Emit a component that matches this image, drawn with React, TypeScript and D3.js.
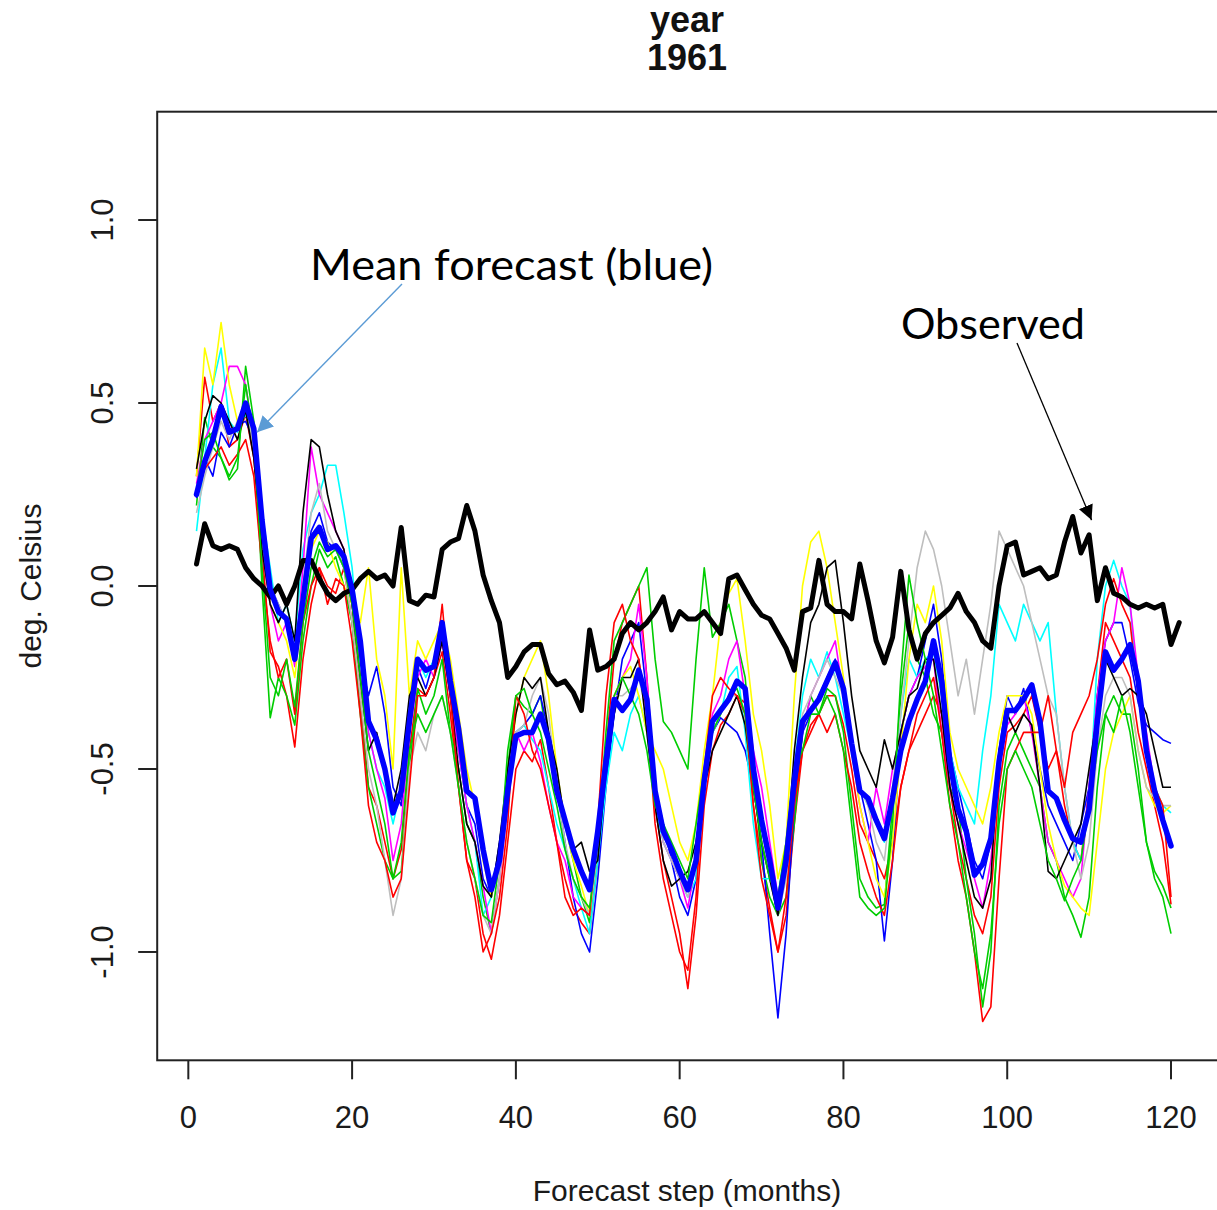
import * as d3 from "d3";

// ---- data ----
const titleLines = ["year", "1961"];
const xTicks = [0, 20, 40, 60, 80, 100, 120];
const yTicks = [-1.0, -0.5, 0.0, 0.5, 1.0];
const xLabel = "Forecast step (months)";
const yLabel = "deg. Celsius";

// observed (thick black), months 1..121
const observed = [
  0.06, 0.17, 0.11, 0.10, 0.11, 0.10, 0.05, 0.02, 0.00, -0.03, 0.00, -0.05,
  0.00, 0.07, 0.07, 0.02, -0.02, -0.04, -0.02, -0.01, 0.02, 0.04, 0.02, 0.03,
  0.00, 0.16, -0.04, -0.05, -0.025, -0.03, 0.10, 0.12, 0.13, 0.22, 0.15, 0.03,
  -0.04, -0.10, -0.25, -0.22, -0.18, -0.16, -0.16, -0.24, -0.27, -0.26, -0.29, -0.34,
  -0.12, -0.23, -0.22, -0.20, -0.13, -0.10, -0.12, -0.10, -0.07, -0.03, -0.12, -0.07,
  -0.09, -0.09, -0.07, -0.10, -0.13, 0.02, 0.03, -0.01, -0.05, -0.08, -0.09, -0.13,
  -0.17, -0.23, -0.07, -0.06, 0.07, -0.05, -0.07, -0.07, -0.09, 0.06, -0.04, -0.15,
  -0.21, -0.14, 0.04, -0.12, -0.20, -0.13, -0.10, -0.08, -0.06, -0.02, -0.07, -0.10,
  -0.15, -0.17, 0.00, 0.11, 0.12, 0.03, 0.04, 0.05, 0.02, 0.03, 0.12, 0.19,
  0.09, 0.14, -0.04, 0.05, -0.02, -0.03, -0.05, -0.06, -0.05, -0.06, -0.05, -0.16,
  -0.10,
];

// ensemble mean (thick blue), months 1..120
const meanForecast = [
  0.25, 0.34, 0.40, 0.49, 0.42, 0.43, 0.50, 0.43, 0.18, -0.01, -0.07, -0.09,
  -0.20, -0.04, 0.13, 0.16, 0.10, 0.11, 0.08, -0.01, -0.15, -0.37, -0.42, -0.50,
  -0.62, -0.56, -0.37, -0.20, -0.23, -0.22, -0.10, -0.26, -0.39, -0.56, -0.58, -0.72,
  -0.83, -0.75, -0.56, -0.41, -0.40, -0.40, -0.35, -0.42, -0.56, -0.64, -0.72, -0.78,
  -0.83, -0.67, -0.48, -0.31, -0.34, -0.31, -0.23, -0.31, -0.56, -0.67, -0.72, -0.78,
  -0.83, -0.75, -0.53, -0.37, -0.34, -0.31, -0.26, -0.28, -0.50, -0.64, -0.75, -0.88,
  -0.75, -0.53, -0.37, -0.34, -0.31, -0.26, -0.21, -0.28, -0.43, -0.56, -0.58, -0.64,
  -0.69, -0.58, -0.45, -0.37, -0.31, -0.26, -0.15, -0.26, -0.48, -0.61, -0.67, -0.79,
  -0.76, -0.69, -0.48, -0.34, -0.34, -0.31, -0.27, -0.37, -0.56, -0.58, -0.64, -0.69,
  -0.70, -0.61, -0.37, -0.18, -0.23, -0.20, -0.16, -0.26, -0.45, -0.56, -0.64, -0.71,
];

// ensemble members (thin lines), months 1..120
const memberRed = [
  0.30, 0.57, 0.45, 0.50, 0.38, 0.40, 0.47, 0.35, 0.10, -0.18, -0.22, -0.30,
  -0.44, -0.20, -0.05, 0.05, 0.00, -0.02, 0.05, -0.10, -0.30, -0.55, -0.60, -0.70,
  -0.80, -0.72, -0.45, -0.28, -0.30, -0.25, -0.18, -0.35, -0.55, -0.75, -0.80, -0.95,
  -1.02, -0.90, -0.70, -0.50, -0.45, -0.48, -0.42, -0.55, -0.70, -0.80, -0.88, -0.92,
  -0.95, -0.75, -0.45, -0.20, -0.10, -0.05, 0.00, -0.25, -0.60, -0.75, -0.85, -0.95,
  -1.10, -0.90, -0.60, -0.45, -0.38, -0.35, -0.30, -0.32, -0.60, -0.75, -0.88, -1.00,
  -0.90, -0.65, -0.45, -0.40, -0.35, -0.30, -0.30, -0.38, -0.50, -0.65, -0.70, -0.75,
  -0.80, -0.70, -0.55, -0.45, -0.40, -0.35, -0.30, -0.35, -0.55, -0.70, -0.80, -0.90,
  -0.95, -0.85, -0.55, -0.40, -0.38, -0.35, -0.30, -0.40, -0.50, -0.45, -0.60, -0.70,
  -0.75, -0.55, -0.30, -0.10, -0.15, -0.20, -0.25, -0.40, -0.50, -0.60, -0.70, -0.87,
];
const memberGreen = [
  0.22, 0.46, 0.38, 0.35, 0.29, 0.32, 0.60, 0.45, 0.00, -0.36, -0.25, -0.30,
  -0.38, -0.15, 0.00, 0.10, 0.05, 0.08, 0.00, -0.10, -0.35, -0.55, -0.65, -0.75,
  -0.80, -0.78, -0.50, -0.28, -0.35, -0.30, -0.20, -0.40, -0.50, -0.65, -0.70, -0.85,
  -0.95, -0.80, -0.50, -0.30, -0.33, -0.35, -0.30, -0.45, -0.55, -0.65, -0.75, -0.85,
  -0.92, -0.70, -0.40, -0.15, -0.10, -0.05, 0.00, 0.05, -0.20, -0.37, -0.40, -0.45,
  -0.50, -0.20, 0.05, -0.14, -0.10, -0.05, -0.15, -0.25, -0.50, -0.75, -0.85, -0.90,
  -0.85, -0.65, -0.40, -0.30, -0.35, -0.28, -0.30, -0.40, -0.60, -0.80, -0.85, -0.88,
  -0.87, -0.60, -0.30, -0.10, -0.20, -0.25, -0.35, -0.40, -0.55, -0.60, -0.80, -0.95,
  -1.15, -1.00, -0.60, -0.45, -0.40, -0.45, -0.50, -0.55, -0.70, -0.75, -0.85, -0.90,
  -0.96, -0.85, -0.55, -0.35, -0.30, -0.35, -0.35, -0.50, -0.70, -0.80, -0.85, -0.95,
];
const memberBlue = [
  0.24, 0.35, 0.30, 0.42, 0.38, 0.44, 0.45, 0.40, 0.20, 0.00, -0.05, -0.10,
  -0.18, 0.00, 0.15, 0.20, 0.12, 0.10, 0.05, -0.05, -0.20, -0.30, -0.22, -0.35,
  -0.55, -0.60, -0.40, -0.22, -0.28, -0.20, -0.15, -0.30, -0.45, -0.60, -0.65, -0.80,
  -0.85, -0.70, -0.55, -0.40, -0.38, -0.35, -0.30, -0.40, -0.55, -0.70, -0.85, -0.95,
  -1.00, -0.80, -0.55, -0.35, -0.20, -0.15, -0.10, -0.30, -0.55, -0.65, -0.75, -0.85,
  -0.90, -0.80, -0.55, -0.40, -0.36, -0.38, -0.40, -0.45, -0.55, -0.70, -0.95, -1.18,
  -0.95, -0.60, -0.40, -0.35, -0.30, -0.25, -0.20, -0.30, -0.45, -0.55, -0.65, -0.75,
  -0.97, -0.75, -0.40, -0.30, -0.25, -0.15, -0.05, -0.20, -0.45, -0.55, -0.65, -0.75,
  -0.80, -0.70, -0.45, -0.30, -0.35, -0.28, -0.40, -0.50, -0.60, -0.65, -0.70, -0.75,
  -0.65, -0.55, -0.30, -0.15, -0.10, -0.10, -0.20, -0.32, -0.38, -0.40, -0.42, -0.43,
];
const memberCyan = [
  0.15, 0.35, 0.55, 0.65, 0.45, 0.42, 0.47, 0.40, 0.20, 0.05, -0.10, -0.05,
  -0.15, 0.10, 0.20, 0.25, 0.33, 0.33, 0.20, 0.05, -0.20, -0.40, -0.50, -0.55,
  -0.65, -0.55, -0.35, -0.20, -0.25, -0.20, -0.10, -0.25, -0.45, -0.60, -0.70, -0.90,
  -0.85, -0.75, -0.55, -0.40, -0.38, -0.42, -0.45, -0.55, -0.65, -0.72, -0.80, -0.88,
  -0.95, -0.75, -0.55, -0.40, -0.45, -0.35, -0.30, -0.40, -0.60, -0.70, -0.75, -0.80,
  -0.85, -0.80, -0.55, -0.40, -0.35, -0.25, -0.22, -0.40, -0.65, -0.80, -0.80, -0.85,
  -0.70, -0.50, -0.30, -0.20, -0.25, -0.18, -0.25, -0.35, -0.45, -0.55, -0.60, -0.65,
  -0.70, -0.60, -0.35, -0.20, -0.25, -0.20, -0.18, -0.30, -0.45, -0.55, -0.60, -0.65,
  -0.45, -0.30, -0.05, -0.10, -0.15, -0.05, -0.10, -0.15, -0.10, -0.35, -0.55, -0.70,
  -0.75, -0.60, -0.20, 0.00, 0.07, 0.00, -0.05, -0.30, -0.45, -0.55, -0.60, -0.62,
];
const memberMagenta = [
  0.28, 0.40, 0.45, 0.50, 0.60, 0.60, 0.55, 0.40, 0.10, -0.05, -0.15, -0.10,
  -0.22, 0.05, 0.38, 0.25, 0.20, 0.15, 0.10, -0.05, -0.25, -0.40, -0.50, -0.58,
  -0.75, -0.65, -0.40, -0.25, -0.20, -0.25, -0.15, -0.30, -0.45, -0.60, -0.70, -0.82,
  -0.95, -0.80, -0.60, -0.40, -0.45, -0.40, -0.48, -0.60, -0.70, -0.75, -0.85, -0.88,
  -0.90, -0.70, -0.45, -0.30, -0.25, -0.20, -0.05, -0.25, -0.55, -0.70, -0.75, -0.80,
  -0.88, -0.75, -0.50, -0.35, -0.30, -0.20, -0.15, -0.30, -0.45, -0.55, -0.70, -0.85,
  -0.72, -0.55, -0.40, -0.30, -0.25, -0.20, -0.15, -0.30, -0.45, -0.60, -0.70, -0.55,
  -0.65, -0.50, -0.40, -0.30, -0.25, -0.22, -0.20, -0.40, -0.55, -0.65, -0.72, -0.80,
  -0.88, -0.75, -0.50, -0.38, -0.35, -0.30, -0.40, -0.55, -0.70, -0.75, -0.80, -0.85,
  -0.80, -0.55, -0.30, -0.15, -0.10, 0.05, -0.05, -0.25, -0.40, -0.55, -0.65, -0.70,
];
const memberYellow = [
  0.30, 0.65, 0.55, 0.72, 0.55, 0.45, 0.50, 0.38, 0.12, -0.05, -0.10, -0.15,
  -0.25, -0.05, 0.10, 0.15, 0.12, 0.05, 0.00, -0.05, -0.10, 0.05, -0.20, -0.30,
  -0.50, 0.05, -0.30, -0.15, -0.20, -0.15, -0.10, -0.20, -0.35, -0.50, -0.60, -0.75,
  -0.85, -0.75, -0.55, -0.35, -0.25, -0.20, -0.15, -0.30, -0.50, -0.65, -0.75, -0.82,
  -0.90, -0.70, -0.45, -0.30, -0.25, -0.22, -0.30, -0.40, -0.45, -0.50, -0.60, -0.70,
  -0.75, -0.65, -0.45, -0.30, -0.10, -0.02, 0.02, -0.15, -0.35, -0.45, -0.60, -0.80,
  -0.70, -0.30, 0.00, 0.12, 0.15, 0.05, -0.10, -0.25, -0.45, -0.60, -0.70, -0.80,
  -0.85, -0.70, -0.45, -0.20, -0.05, -0.10, 0.00, -0.15, -0.40, -0.50, -0.55, -0.60,
  -0.65, -0.55, -0.40, -0.30, -0.30, -0.30, -0.35, -0.50, -0.65, -0.75, -0.82, -0.85,
  -0.88, -0.90, -0.70, -0.50, -0.40, -0.35, -0.30, -0.45, -0.55, -0.60, -0.62, -0.60,
];
const memberGray = [
  0.20, 0.30, 0.38, 0.45, 0.40, 0.45, 0.50, 0.38, 0.15, 0.00, -0.05, -0.10,
  -0.20, 0.00, 0.20, 0.28, 0.15, 0.10, 0.05, -0.10, -0.30, -0.50, -0.60, -0.75,
  -0.90, -0.80, -0.50, -0.40, -0.45, -0.35, -0.30, -0.40, -0.55, -0.70, -0.80, -0.90,
  -0.95, -0.80, -0.55, -0.40, -0.38, -0.30, -0.25, -0.35, -0.55, -0.70, -0.80, -0.85,
  -0.90, -0.70, -0.45, -0.30, -0.30, -0.28, -0.25, -0.35, -0.55, -0.70, -0.75, -0.80,
  -0.85, -0.75, -0.55, -0.40, -0.35, -0.30, -0.30, -0.35, -0.55, -0.65, -0.80, -0.90,
  -0.80, -0.55, -0.35, -0.30, -0.25, -0.20, -0.25, -0.30, -0.45, -0.55, -0.60, -0.70,
  -0.75, -0.55, -0.35, -0.15, 0.05, 0.15, 0.10, 0.00, -0.15, -0.30, -0.20, -0.35,
  -0.20, -0.05, 0.15, 0.10, 0.05, 0.00, -0.10, -0.20, -0.30, -0.35, -0.55, -0.70,
  -0.80, -0.70, -0.45, -0.30, -0.25, -0.25, -0.30, -0.45, -0.55, -0.58, -0.60, -0.60,
];
const memberBlack = [
  0.32, 0.45, 0.52, 0.50, 0.45, 0.40, 0.48, 0.35, 0.10, -0.05, -0.10, -0.05,
  -0.15, 0.20, 0.40, 0.38, 0.25, 0.15, 0.10, -0.05, -0.25, -0.45, -0.40, -0.50,
  -0.60, -0.50, -0.30, -0.25, -0.30, -0.25, -0.15, -0.30, -0.50, -0.65, -0.70, -0.82,
  -0.85, -0.70, -0.50, -0.35, -0.25, -0.28, -0.25, -0.40, -0.50, -0.65, -0.72, -0.70,
  -0.78, -0.75, -0.50, -0.35, -0.25, -0.25, -0.20, -0.40, -0.60, -0.75, -0.82, -0.80,
  -0.78, -0.70, -0.55, -0.45, -0.40, -0.35, -0.30, -0.38, -0.55, -0.70, -0.80, -0.90,
  -0.75, -0.45, -0.25, -0.10, -0.05, 0.05, 0.07, -0.10, -0.30, -0.45, -0.50, -0.55,
  -0.42, -0.50, -0.40, -0.30, -0.28, -0.20, -0.20, -0.35, -0.55, -0.65, -0.75, -0.85,
  -0.88, -0.80, -0.45, -0.35, -0.40, -0.35, -0.38, -0.55, -0.78, -0.80, -0.75, -0.70,
  -0.65, -0.50, -0.35, -0.20, -0.25, -0.30, -0.28, -0.30, -0.35, -0.45, -0.55, -0.55,
];
const memberRed2 = [
  0.25, 0.32, 0.35, 0.38, 0.33, 0.36, 0.40, 0.30, 0.05, -0.15, -0.25, -0.20,
  -0.35, -0.10, 0.00, 0.05, -0.05, 0.02, 0.00, -0.15, -0.35, -0.60, -0.70, -0.75,
  -0.85, -0.80, -0.55, -0.30, -0.30, -0.25, -0.05, -0.30, -0.55, -0.75, -0.85, -1.00,
  -0.95, -0.85, -0.65, -0.30, -0.35, -0.45, -0.50, -0.60, -0.70, -0.85, -0.90, -0.88,
  -0.90, -0.65, -0.30, -0.10, -0.05, -0.15, -0.20, -0.35, -0.65, -0.80, -0.90, -1.00,
  -1.05, -0.85, -0.50, -0.30, -0.25, -0.28, -0.30, -0.35, -0.60, -0.80, -0.90, -1.00,
  -0.85, -0.60, -0.45, -0.38, -0.35, -0.40, -0.35, -0.45, -0.55, -0.70, -0.78, -0.85,
  -0.90, -0.75, -0.55, -0.45, -0.35, -0.30, -0.25, -0.40, -0.60, -0.75, -0.85, -1.00,
  -1.19, -1.15, -0.80, -0.50, -0.45, -0.40, -0.40, -0.40, -0.30, -0.45, -0.55, -0.40,
  -0.35, -0.30, -0.20, -0.05, 0.02, -0.05, -0.10, -0.30, -0.45, -0.55, -0.60, -0.85,
];
const memberGreen2 = [
  0.26, 0.40, 0.42, 0.35, 0.30, 0.35, 0.55, 0.40, 0.05, -0.25, -0.30, -0.20,
  -0.33, -0.10, 0.05, 0.12, 0.08, 0.10, 0.05, -0.05, -0.25, -0.45, -0.55, -0.65,
  -0.80, -0.70, -0.45, -0.35, -0.40, -0.35, -0.30, -0.40, -0.55, -0.70, -0.80, -0.90,
  -0.92, -0.75, -0.45, -0.30, -0.28, -0.35, -0.40, -0.50, -0.60, -0.72, -0.80, -0.85,
  -0.88, -0.70, -0.45, -0.30, -0.25, -0.30, -0.35, -0.45, -0.60, -0.65, -0.70, -0.75,
  -0.80, -0.65, -0.50, -0.40, -0.35, -0.30, -0.28, -0.35, -0.55, -0.70, -0.80, -0.85,
  -0.70, -0.50, -0.45, -0.35, -0.35, -0.30, -0.35, -0.45, -0.65, -0.85, -0.88, -0.90,
  -0.88, -0.65, -0.25, 0.03, -0.10, -0.20, -0.30, -0.45, -0.60, -0.70, -0.85, -1.00,
  -1.10, -0.95, -0.65, -0.50, -0.45, -0.50, -0.55, -0.65, -0.75, -0.80, -0.86, -0.80,
  -0.75, -0.60, -0.45, -0.35, -0.40, -0.30, -0.40, -0.55, -0.70, -0.78, -0.82, -0.88,
];

const members = [
  memberRed, memberGreen, memberBlue, memberCyan, memberMagenta,
  memberYellow, memberGray, memberBlack, memberRed2, memberGreen2,
];
const memberColors = [
  "#FF0000", "#00CD00", "#0000FF", "#00FFFF", "#FF00FF",
  "#FFFF00", "#BEBEBE", "#000000", "#FF0000", "#00CD00",
];

export default function App() {
  const width = 1217;
  const height = 1210;

  // plot region, R style (4% padding round the data range)
  const x = d3.scaleLinear().domain([-3.8, 125.8]).range([157.2, 1218.5]);
  const y = d3.scaleLinear().domain([-1.296, 1.296]).range([1060.3, 111.7]);

  const line = d3
    .line<number>()
    .x((d, i) => x(i + 1))
    .y((d) => y(d));

  const axisFont = "'Liberation Sans', Arial, sans-serif";
  const noteFont = "Lato, 'Open Sans', sans-serif";
  const [x0, x1] = x.range();
  const [y0, y1] = y.range();

  return (
    <svg
      width={width}
      height={height}
      style={{ position: "absolute", left: 0, top: 0, background: "#fff" }}
    >
      <defs>
        <marker id="headBlue" viewBox="0 0 10 10" refX="10" refY="5"
          markerWidth="16" markerHeight="16" markerUnits="userSpaceOnUse" orient="auto">
          <path d="M0,0 L10,5 L0,10 z" fill="#5B9BD5" />
        </marker>
        <marker id="headBlack" viewBox="0 0 10 10" refX="10" refY="5"
          markerWidth="15" markerHeight="15" markerUnits="userSpaceOnUse" orient="auto">
          <path d="M0,0 L10,5 L0,10 z" fill="#000" />
        </marker>
        <clipPath id="plotClip">
          <rect x={x0} y={y1} width={x1 - x0} height={y0 - y1} />
        </clipPath>
      </defs>

      {/* title */}
      {titleLines.map((t, i) => (
        <text key={t} x={687} y={32 + i * 38} textAnchor="middle"
          fontFamily={axisFont} fontWeight="bold" fontSize={36} fill="#111">
          {t}
        </text>
      ))}

      {/* ensemble members, then observed and mean on top */}
      <g clipPath="url(#plotClip)" fill="none" strokeLinejoin="round">
        {members.map((m, i) => (
          <path key={i} d={line(m) ?? ""} stroke={memberColors[i]} strokeWidth={1.6} />
        ))}
        <path d={line(observed) ?? ""} stroke="#000" strokeWidth={5} strokeLinecap="round" />
        <path d={line(meanForecast) ?? ""} stroke="#0000FF" strokeWidth={5.5} strokeLinecap="round" />
      </g>

      {/* box */}
      <rect x={x0} y={y1} width={x1 - x0} height={y0 - y1} fill="none" stroke="#222" strokeWidth={2} />

      {/* x axis */}
      <g>
        {xTicks.map((t) => (
          <g key={t}>
            <line x1={x(t)} x2={x(t)} y1={y0} y2={y0 + 19} stroke="#222" strokeWidth={2} />
            <text x={x(t)} y={1128} textAnchor="middle" fontFamily={axisFont} fontSize={31} fill="#1a1a1a">
              {t}
            </text>
          </g>
        ))}
        <text x={687} y={1201} textAnchor="middle" fontFamily={axisFont} fontSize={30} fill="#1a1a1a">
          {xLabel}
        </text>
      </g>

      {/* y axis */}
      <g>
        {yTicks.map((t) => (
          <g key={t}>
            <line x1={x0} x2={x0 - 19} y1={y(t)} y2={y(t)} stroke="#222" strokeWidth={2} />
            <text transform={`translate(113,${y(t)}) rotate(-90)`} textAnchor="middle"
              fontFamily={axisFont} fontSize={31} fill="#1a1a1a">
              {t.toFixed(1)}
            </text>
          </g>
        ))}
        <text transform={`translate(41,${(y0 + y1) / 2}) rotate(-90)`} textAnchor="middle"
          fontFamily={axisFont} fontSize={30} fill="#1a1a1a">
          {yLabel}
        </text>
      </g>

      {/* annotations */}
      <text x={310} y={280} fontFamily={noteFont} fontSize={42} fill="#000"
        textLength={403} lengthAdjust="spacingAndGlyphs">
        Mean forecast (blue)
      </text>
      <line x1={402} y1={284} x2={x(8.4)} y2={y(0.42)} stroke="#5B9BD5" strokeWidth={1.4}
        markerEnd="url(#headBlue)" />
      <text x={901} y={339} fontFamily={noteFont} fontSize={42} fill="#000"
        textLength={184} lengthAdjust="spacingAndGlyphs">
        Observed
      </text>
      <line x1={1017} y1={343} x2={x(110.3)} y2={y(0.18)} stroke="#000" strokeWidth={1.3}
        markerEnd="url(#headBlack)" />
    </svg>
  );
}
